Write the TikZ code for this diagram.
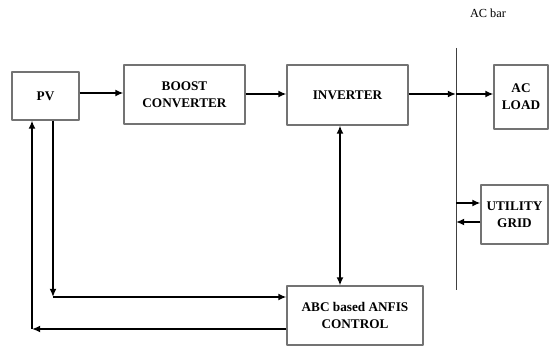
\documentclass[tikz,border=0pt]{standalone}
\usepackage{fontspec}
\setmainfont{Liberation Serif}
\usetikzlibrary{arrows.meta}

\begin{document}
\begin{tikzpicture}[
  line join=round,
  every node/.style={font=\fontsize{11.3}{14.5}\selectfont\bfseries},
  block/.style={draw=black!55,line width=0.9pt,align=center,inner sep=0pt},
  flow/.style={line width=1.4pt,-{Latex[length=7pt,width=6pt]}},
  bus/.style={line width=0.8pt,black!75}
]

\useasboundingbox (0,0) rectangle (16.65,10.44);

% ------------------------------------------------------------------
% Blocks
% ------------------------------------------------------------------
\node[block,minimum width=2.01cm,minimum height=1.44cm] (PV) at (1.365,7.56) {PV};
\node[block,minimum width=3.63cm,minimum height=1.77cm] (Boost) at (5.535,7.605) {BOOST\\CONVERTER};
\node[block,minimum width=3.63cm,minimum height=1.80cm] (Inv) at (10.425,7.59) {INVERTER};
\node[block,minimum width=1.62cm,minimum height=1.92cm] (Load) at (15.63,7.53) {AC\\LOAD};
\node[block,minimum width=2.01cm,minimum height=1.77cm] (Grid) at (15.435,4.005) {UTILITY\\GRID};
\node[block,minimum width=4.08cm,minimum height=1.77cm] (Ctrl) at (10.65,0.975) {ABC based ANFIS\\CONTROL};

% ------------------------------------------------------------------
% AC bar
% ------------------------------------------------------------------
\coordinate (barT) at (13.68,9.00);
\coordinate (barB) at (13.68,1.74);
\draw[bus] (barT) -- (barB);
\node[font=\fontsize{10.5}{12}\selectfont] (barlbl) at (14.64,10.05) {AC bar};

% ------------------------------------------------------------------
% Power flow
% ------------------------------------------------------------------
\coordinate (barI) at (barT |- 0,7.62);
\draw[flow] (PV.east |- 0,7.65) -- (Boost.west |- 0,7.65);
\draw[flow] (Boost.east |- 0,7.62) -- (Inv.west |- 0,7.62);
\draw[flow] (Inv.east |- barI) -- (barI);
\draw[flow] (barI) -- (Load.west |- barI);

\draw[flow] (barT |- 0,4.35) -- (Grid.west |- 0,4.35);
\draw[flow] (Grid.west |- 0,3.78) -- (barT |- 0,3.78);

% ------------------------------------------------------------------
% Control loop
% ------------------------------------------------------------------
\draw[flow,{Latex[length=7pt,width=6pt]}-{Latex[length=7pt,width=6pt]}]
  (Inv.south -| 10.2,0) -- (Ctrl.north -| 10.2,0);

\coordinate (fbA) at (1.59,1.53);
\coordinate (fbB) at (0.96,0.57);
\draw[flow] (PV.south -| fbA) -- (fbA);
\draw[flow] (fbA) -- (fbA -| Ctrl.west);
\draw[flow] (fbB -| Ctrl.west) -- (fbB);
\draw[flow] (fbB) -- (PV.south -| fbB);

\end{tikzpicture}
\end{document}
